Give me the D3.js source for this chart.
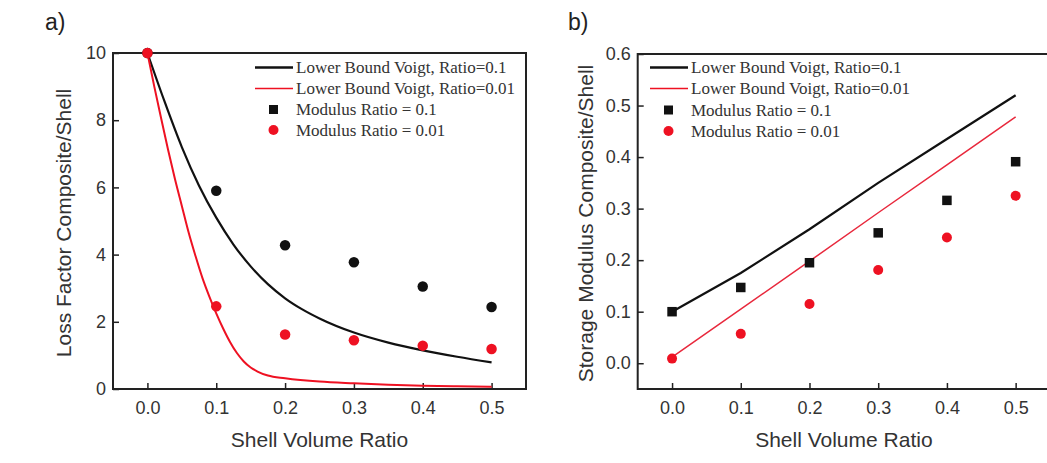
<!DOCTYPE html>
<html>
<head>
<meta charset="utf-8">
<script src="https://cdn.jsdelivr.net/npm/d3@7"></script>
<style>
  body { margin: 0; background: #fff; }
  .tick text { font-family: "Liberation Sans", Arial, sans-serif; font-size: 18px; fill: #333; }
  .tick line { stroke: #222; stroke-width: 1.5px; }
  .title { font-family: "Liberation Sans", Arial, sans-serif; font-size: 21px; fill: #333; }
  .panel { font-family: "Liberation Sans", Arial, sans-serif; font-size: 23px; fill: #222; }
  .legend text { font-family: "Liberation Serif", "Times New Roman", serif; font-size: 17px; fill: #333; }
</style>
</head>
<body>
<div id="chart"></div>
<script>
// shared x values (shell volume ratio)
const fractions = [0, 0.1, 0.2, 0.3, 0.4, 0.5];
const xTicks = [0, 0.1, 0.2, 0.3, 0.4, 0.5];

// panel a) loss factor
const lossTicks = [0, 2, 4, 6, 8, 10];
const lossDots01 = [10, 5.9, 4.28, 3.77, 3.05, 2.44];
const lossDots001 = [10, 2.46, 1.62, 1.45, 1.29, 1.19];
const lossCurveX01 = [0, 0.025, 0.05, 0.075, 0.1, 0.125, 0.15, 0.175, 0.2, 0.225, 0.25, 0.3, 0.35, 0.4, 0.45, 0.5];
const lossCurve01 = [10, 8.55, 7.2, 6.05, 5.1, 4.3, 3.65, 3.12, 2.7, 2.37, 2.1, 1.68, 1.38, 1.15, 0.96, 0.79];
const lossCurveX001 = [0, 0.01, 0.02, 0.03, 0.04, 0.05, 0.06, 0.07, 0.08, 0.09, 0.1, 0.11, 0.12, 0.13, 0.14, 0.15, 0.16, 0.175, 0.2, 0.25, 0.3, 0.35, 0.4, 0.45, 0.5];
const lossCurve001 = [10, 9.0, 8.05, 7.12, 6.25, 5.45, 4.65, 3.95, 3.3, 2.75, 2.25, 1.8, 1.4, 1.07, 0.82, 0.64, 0.52, 0.4, 0.32, 0.22, 0.17, 0.13, 0.1, 0.08, 0.07];

// panel b) storage modulus
const storageTicks = [0, 0.1, 0.2, 0.3, 0.4, 0.5, 0.6];
const storageDots01 = [0.1, 0.147, 0.195, 0.253, 0.316, 0.391];
const storageDots001 = [0.009, 0.057, 0.115, 0.181, 0.244, 0.325];
const storageLine01 = [0.1, 0.175, 0.26, 0.35, 0.435, 0.52];
const storageLine001 = [0.012, 0.105, 0.198, 0.292, 0.385, 0.478];

const legendLabels = [
  "Lower Bound Voigt, Ratio=0.1",
  "Lower Bound Voigt, Ratio=0.01",
  "Modulus Ratio = 0.1",
  "Modulus Ratio = 0.01"
];

const black = "#111";
const red = "#ee1122";

const svg = d3.select("#chart").append("svg")
  .attr("width", 1047)
  .attr("height", 463);

svg.append("rect").attr("width", 1047).attr("height", 463).attr("fill", "#fff");

function drawPanel(opts) {
  const x = d3.scaleLinear().domain([-0.05, 0.55]).range(opts.xRange);
  const y = d3.scaleLinear().domain(opts.yDomain).range(opts.yRange);
  const g = svg.append("g");

  g.append("g")
    .attr("transform", `translate(0,${opts.yRange[0]})`)
    .call(d3.axisBottom(x).tickValues(xTicks).tickFormat(d3.format(".1f"))
      .tickSizeInner(-6).tickSizeOuter(0).tickPadding(12))
    .call(a => a.select(".domain").remove());

  g.append("g")
    .attr("transform", `translate(${opts.xRange[0]},0)`)
    .call(d3.axisLeft(y).tickValues(opts.yTicks).tickFormat(opts.yFormat)
      .tickSizeInner(-6).tickSizeOuter(0).tickPadding(7))
    .call(a => a.select(".domain").remove());

  g.append("rect")
    .attr("x", opts.xRange[0]).attr("y", opts.yRange[1])
    .attr("width", opts.xRange[1] - opts.xRange[0])
    .attr("height", opts.yRange[0] - opts.yRange[1])
    .attr("fill", "none").attr("stroke", "#222").attr("stroke-width", 2);

  const line = d3.line().x(d => x(d[0])).y(d => y(d[1])).curve(opts.curve);

  opts.lines.forEach(l => {
    g.append("path")
      .datum(d3.zip(l.xs, l.ys))
      .attr("d", line)
      .attr("fill", "none")
      .attr("stroke", l.color)
      .attr("stroke-width", l.width);
  });

  opts.dots.forEach(s => {
    const pts = d3.zip(fractions, s.ys);
    if (s.shape === "square") {
      g.selectAll(null).data(pts).enter().append("rect")
        .attr("x", d => x(d[0]) - s.size / 2)
        .attr("y", d => y(d[1]) - s.size / 2)
        .attr("width", s.size).attr("height", s.size)
        .attr("fill", s.color);
    } else {
      g.selectAll(null).data(pts).enter().append("circle")
        .attr("cx", d => x(d[0])).attr("cy", d => y(d[1]))
        .attr("r", s.size / 2)
        .attr("fill", s.color);
    }
  });

  // legend
  const lg = g.append("g").attr("class", "legend");
  const lx = opts.legend.x, rows = opts.legend.rows;
  lg.append("line").attr("x1", lx).attr("x2", lx + 38).attr("y1", rows[0]).attr("y2", rows[0])
    .attr("stroke", black).attr("stroke-width", 2.5);
  lg.append("line").attr("x1", lx).attr("x2", lx + 38).attr("y1", rows[1]).attr("y2", rows[1])
    .attr("stroke", red).attr("stroke-width", 1.5);
  lg.append("rect").attr("x", lx + 14).attr("y", rows[2] - 4.5).attr("width", 9).attr("height", 9)
    .attr("fill", black);
  lg.append("circle").attr("cx", lx + 18.5).attr("cy", rows[3]).attr("r", 5).attr("fill", red);
  lg.selectAll("text").data(legendLabels).enter().append("text")
    .attr("x", lx + 41)
    .attr("y", (d, i) => rows[i] + 5.5)
    .text(d => d);

  svg.append("text").attr("class", "title")
    .attr("transform", `translate(${opts.yTitleX},${(opts.yRange[0] + opts.yRange[1]) / 2 + 2}) rotate(-90)`)
    .attr("text-anchor", "middle")
    .text(opts.yTitle);

  svg.append("text").attr("class", "title")
    .attr("x", x(0.25)).attr("y", 447)
    .attr("text-anchor", "middle")
    .text("Shell Volume Ratio");

  svg.append("text").attr("class", "panel")
    .attr("x", opts.label.x).attr("y", 30)
    .text(opts.label.text);
}

drawPanel({
  xRange: [113, 526],
  yDomain: [0, 10],
  yRange: [389, 53],
  yTicks: lossTicks,
  yFormat: d3.format("d"),
  curve: d3.curveMonotoneX,
  lines: [
    { xs: lossCurveX01, ys: lossCurve01, color: black, width: 2.2 },
    { xs: lossCurveX001, ys: lossCurve001, color: red, width: 2 }
  ],
  dots: [
    { ys: lossDots01, color: black, shape: "circle", size: 10.5 },
    { ys: lossDots001, color: red, shape: "circle", size: 10.5 }
  ],
  legend: { x: 255, rows: [67.5, 88.5, 109.5, 130] },
  yTitle: "Loss Factor Composite/Shell",
  yTitleX: 71,
  label: { x: 45, text: "a)" }
});

drawPanel({
  xRange: [637.7, 1050],
  yDomain: [-0.05, 0.6],
  yRange: [389, 54],
  yTicks: storageTicks,
  yFormat: d3.format(".1f"),
  curve: d3.curveLinear,
  lines: [
    { xs: fractions, ys: storageLine01, color: black, width: 2.2 },
    { xs: fractions, ys: storageLine001, color: "#e8283c", width: 1.5 }
  ],
  dots: [
    { ys: storageDots01, color: black, shape: "square", size: 9.5 },
    { ys: storageDots001, color: red, shape: "circle", size: 10 }
  ],
  legend: { x: 650, rows: [67.5, 88.5, 110, 131] },
  yTitle: "Storage Modulus Composite/Shell",
  yTitleX: 593,
  label: { x: 568, text: "b)" }
});
</script>
</body>
</html>
